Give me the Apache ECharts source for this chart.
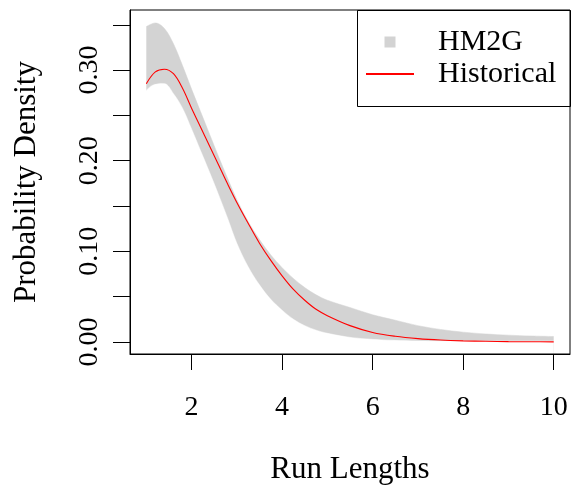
<!DOCTYPE html>
<html>
<head>
<meta charset="utf-8">
<script src="https://cdn.jsdelivr.net/npm/echarts@6/dist/echarts.min.js"></script>
<style>
  html, body { margin: 0; padding: 0; background: #fff; }
  #chart { width: 572px; height: 490px; }
</style>
</head>
<body>
<div id="chart"></div>
<script>
// ---- data ----
const xValues    = [1.0, 1.2, 1.4, 1.6, 1.8, 2.0, 2.2, 2.4, 2.6, 2.8, 3.0, 3.25, 3.5, 3.75, 4.0, 4.25, 4.5, 4.75, 5.0, 5.5, 6.0, 6.5, 7.0, 7.5, 8.0, 8.5, 9.0, 9.5, 10.0];
const hm2gLower  = [0.276, 0.284, 0.285, 0.274, 0.258, 0.235, 0.211, 0.187, 0.162, 0.136, 0.109, 0.083, 0.063, 0.047, 0.035, 0.025, 0.018, 0.013, 0.0095, 0.005, 0.0028, 0.0016, 0.001, 0.0008, 0.0008, 0.0008, 0.0008, 0.0008, 0.0008];
const hm2gUpper  = [0.348, 0.352, 0.346, 0.329, 0.305, 0.279, 0.254, 0.229, 0.204, 0.180, 0.157, 0.133, 0.113, 0.096, 0.082, 0.070, 0.060, 0.052, 0.046, 0.038, 0.030, 0.024, 0.018, 0.0138, 0.0108, 0.0088, 0.0075, 0.0066, 0.006];
const historical = [0.285, 0.298, 0.301, 0.296, 0.280, 0.258, 0.237, 0.216, 0.195, 0.174, 0.154, 0.131, 0.109, 0.090, 0.073, 0.058, 0.046, 0.036, 0.029, 0.018, 0.0105, 0.0063, 0.0037, 0.0021, 0.0012, 0.0007, 0.0004, 0.0002, 0.0001];
const xTickValues = [2, 4, 6, 8, 10];
const yTickValues = [0, 0.05, 0.10, 0.15, 0.20, 0.25, 0.30, 0.35];
const yLabelValues = [0, 0.10, 0.20, 0.30];
const seriesNames = ['HM2G', 'Historical'];
const axisTitles = { x: 'Run Lengths', y: 'Probability Density' };

const FONT = 'Liberation Serif';
const BAND = '#d3d3d3';
const upperPairs = xValues.map((x, i) => [x, hm2gUpper[i]]);
const lowerPairs = xValues.map((x, i) => [x, hm2gLower[i]]);
const histPairs  = xValues.map((x, i) => [x, historical[i]]);

const chart = echarts.init(document.getElementById('chart'), null, { renderer: 'canvas' });
chart.setOption({
  animation: false,
  backgroundColor: '#ffffff',
  grid: { left: 130, top: 10, width: 440, height: 344, show: true, borderColor: '#000', borderWidth: 1, backgroundColor: 'transparent', z: 10 },
  xAxis: {
    type: 'value', min: 0.64, max: 10.36, z: 10,
    name: axisTitles.x, nameLocation: 'middle', nameGap: 100,
    nameTextStyle: { fontFamily: FONT, fontSize: 31, color: '#000' },
    axisLine: { show: true, onZero: false, lineStyle: { color: '#000', width: 1 } },
    axisTick: { show: true, length: 16, customValues: xTickValues, lineStyle: { color: '#000' } },
    axisLabel: { customValues: xTickValues, margin: 40, fontFamily: FONT, fontSize: 28, color: '#000' },
    splitLine: { show: false }
  },
  yAxis: {
    type: 'value', min: -0.0133, max: 0.3663, z: 10,
    name: axisTitles.y, nameLocation: 'middle', nameGap: 88, nameRotate: 90,
    nameTextStyle: { fontFamily: FONT, fontSize: 31, color: '#000' },
    axisLine: { show: true, onZero: false, lineStyle: { color: '#000', width: 1 } },
    axisTick: { show: true, length: 17, customValues: yTickValues, lineStyle: { color: '#000' } },
    axisLabel: { customValues: yLabelValues, rotate: 90, margin: 26, fontFamily: FONT, fontSize: 28, color: '#000',
                 formatter: v => v.toFixed(2) },
    splitLine: { show: false }
  },
  legend: {
    left: 365, top: 26, orient: 'vertical',
    padding: 0, itemGap: 0, itemWidth: 48, itemHeight: 11,
    textStyle: { fontFamily: FONT, fontSize: 30, color: '#000', lineHeight: 32, padding: [0, 0, 0, 19] },
    data: [
      { name: seriesNames[0], icon: 'path://M0,0L10,0L10,10L0,10Z', itemStyle: { color: BAND, borderWidth: 0, opacity: 1 } },
      { name: seriesNames[1], itemStyle: { color: 'rgba(0,0,0,0)', borderWidth: 0 } }
    ]
  },
  graphic: [{
    type: 'rect', shape: { x: 357.5, y: 10.5, width: 213, height: 96 },
    style: { fill: 'transparent', stroke: '#000', lineWidth: 1 }, z: 100, silent: true
  }],
  series: [
    { name: seriesNames[0], type: 'line', data: upperPairs, smooth: 0.35, z: 2,
      symbol: 'none', itemStyle: { color: BAND },
      lineStyle: { width: 0.5, color: BAND }, areaStyle: { color: BAND, opacity: 1, origin: 'start' } },
    { name: 'lowerEdge', type: 'line', data: lowerPairs, smooth: 0.35, z: 3,
      symbol: 'none', itemStyle: { color: '#fff' }, silent: true,
      lineStyle: { width: 0.5, color: '#fff' },
      areaStyle: { color: '#fff', opacity: 1, origin: 'start', shadowColor: '#fff', shadowBlur: 1, shadowOffsetX: -1.5 } },
    { name: seriesNames[1], type: 'line', data: histPairs, smooth: 0.35, z: 5,
      symbol: 'none', itemStyle: { color: '#ff0000' }, lineStyle: { width: 1.1, color: '#ff0000' } }
  ]
});
</script>
</body>
</html>
